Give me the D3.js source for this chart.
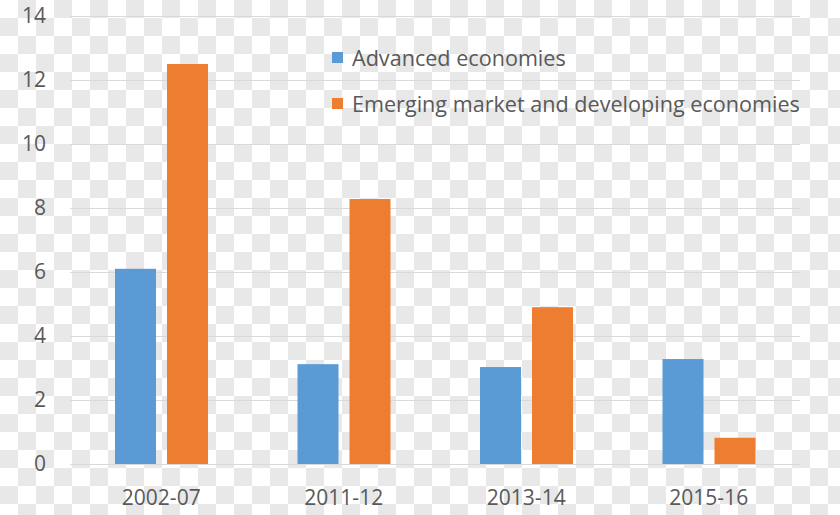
<!DOCTYPE html>
<html>
<head>
<meta charset="utf-8">
<script src="https://cdn.jsdelivr.net/npm/d3@7"></script>
<style>
  html, body { margin: 0; padding: 0; background: #ffffff; }
  svg { display: block; }
  text { font-family: "Open Sans", sans-serif; fill: #595959; }
</style>
</head>
<body>
<svg id="chart" width="840" height="515"></svg>
<script>
const categories = ["2002-07", "2011-12", "2013-14", "2015-16"];
const seriesNames = ["Advanced economies", "Emerging market and developing economies"];
const advanced = [6.1, 3.12, 3.03, 3.28];
const emerging = [12.5, 8.28, 4.9, 0.82];
const yTicks = [0, 2, 4, 6, 8, 10, 12, 14];
const colors = ["#5B9BD5", "#ED7D31"];

const W = 840, H = 515, CELL = 18;
const svg = d3.select("#chart");

// checkerboard backdrop as seen in the reference image
svg.append("rect").attr("width", W).attr("height", H).attr("fill", "#ffffff");
const cells = [];
for (let r = 0; r * CELL < H; r++) for (let c = 0; c * CELL < W; c++) if ((r + c) % 2 === 1) cells.push([c, r]);
svg.append("g").selectAll("rect").data(cells).join("rect")
  .attr("x", d => d[0] * CELL).attr("y", d => d[1] * CELL)
  .attr("width", CELL).attr("height", CELL).attr("fill", "#e8e8e8");

const plot = { left: 70, right: 800, top: 16, bottom: 464 };

const x0 = d3.scaleBand().domain(categories).range([plot.left, plot.right]).padding(0);
const x1 = d3.scaleBand().domain(seriesNames).range([45, 138]).paddingInner(0.2115).paddingOuter(0);
const y = d3.scaleLinear().domain([0, 14]).range([plot.bottom, plot.top]);

// gridlines
svg.append("g").selectAll("line").data(yTicks).join("line")
  .attr("x1", plot.left).attr("x2", plot.right)
  .attr("y1", d => Math.round(y(d)) + 0.5).attr("y2", d => Math.round(y(d)) + 0.5)
  .attr("stroke", "#d9d9d9").attr("stroke-width", 1);

// y axis labels
const yAxis = d3.axisLeft(y).tickValues(yTicks).tickSize(0).tickPadding(0);
const gy = svg.append("g").attr("transform", "translate(46,0)").call(yAxis);
gy.select(".domain").remove();
gy.selectAll("text").style("font-size", "21px").attr("fill", "#595959")
  .style("font-family", "'Open Sans', sans-serif");

// bars
const data = categories.map((c, i) => ({ cat: c, vals: [advanced[i], emerging[i]] }));
const groups = svg.append("g").selectAll("g").data(data).join("g")
  .attr("transform", d => `translate(${x0(d.cat)},0)`);
groups.selectAll("rect").data(d => d.vals.map((v, j) => ({ v, s: seriesNames[j], j })))
  .join("rect")
  .attr("x", d => x1(d.s))
  .attr("width", x1.bandwidth())
  .attr("y", d => y(d.v))
  .attr("height", d => y(0) - y(d.v))
  .attr("fill", d => colors[d.j]);

// x axis labels
const xAxis = d3.axisBottom(x0).tickSize(0).tickPadding(0);
const gx = svg.append("g").attr("transform", `translate(0,${plot.bottom})`).call(xAxis);
gx.select(".domain").remove();
gx.selectAll("text").style("font-size", "21px").attr("fill", "#595959")
  .style("font-family", "'Open Sans', sans-serif")
  .attr("dy", null).attr("y", 41);

// legend
const legend = svg.append("g").attr("transform", "translate(332,52)");
const li = legend.selectAll("g").data(seriesNames).join("g")
  .attr("transform", (d, i) => `translate(0,${i * 46})`);
li.append("rect").attr("width", 11).attr("height", 11).attr("fill", (d, i) => colors[i]);
li.append("text").attr("x", 20).attr("y", 14).style("font-size", "21.6px").text(d => d);
</script>
</body>
</html>
